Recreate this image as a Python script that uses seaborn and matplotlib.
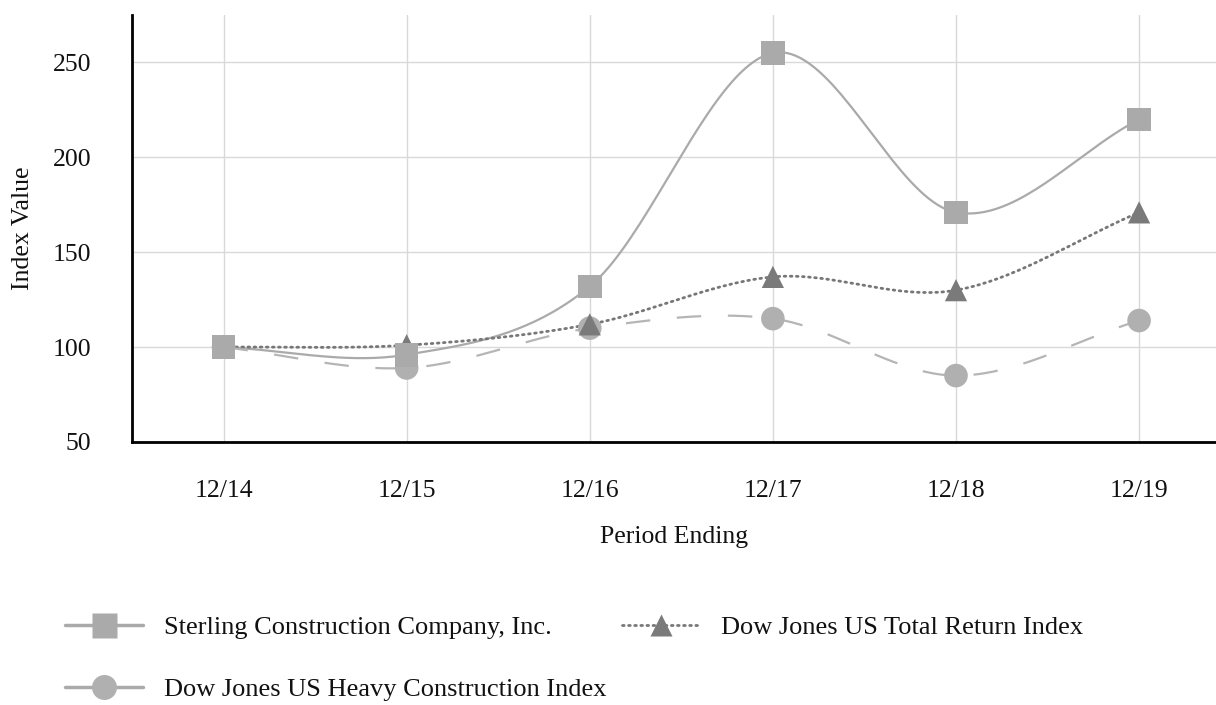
import numpy as np
import pandas as pd
import matplotlib
matplotlib.use('Agg')
import matplotlib.pyplot as plt
import seaborn as sns
from matplotlib.lines import Line2D

# data
periods = ['12/14', '12/15', '12/16', '12/17', '12/18', '12/19']
sterling = [100, 96, 132, 255, 171, 220]
dj_total = [100, 101, 112, 137, 130, 171]
dj_heavy = [100, 89, 110, 115, 85, 114]

names = ['Sterling Construction Company, Inc.',
         'Dow Jones US Total Return Index',
         'Dow Jones US Heavy Construction Index']


def smooth(y, n=40):
    # cardinal (catmull-rom) spline through the points
    y = np.asarray(y, dtype=float)
    x = np.arange(len(y), dtype=float)
    m = np.gradient(y, x)
    xs, ys = [], []
    for i in range(len(y) - 1):
        t = np.linspace(0, 1, n, endpoint=(i == len(y) - 2))
        h00 = 2 * t**3 - 3 * t**2 + 1
        h10 = t**3 - 2 * t**2 + t
        h01 = -2 * t**3 + 3 * t**2
        h11 = t**3 - t**2
        xs.append(x[i] + t)
        ys.append(h00 * y[i] + h10 * m[i] + h01 * y[i + 1] + h11 * m[i + 1])
    return np.concatenate(xs), np.concatenate(ys)


sns.set_style('white')
plt.rcParams['font.family'] = ['Liberation Serif', 'DejaVu Serif']
FS = 18.5

fig = plt.figure(figsize=(12.16, 7.05), dpi=100)
ax = fig.add_axes([132 / 1216, 263 / 705, 1 - 132 / 1216, (442 - 15) / 705])

# square on top, then triangle, circles lowest
styles = [
    dict(color='#aaaaaa', ls='-', marker='s', mc='#aaaaaa', ms=17, z=5),
    dict(color='#777777', ls=(0, (0.6, 1.6)), marker='^', mc='#7a7a7a', ms=16, z=4),
    dict(color='#b5b5b5', ls=(0, (11, 12)), marker='o', mc='#b0b0b0', ms=17, z=3),
]

xpos = np.arange(len(periods))
for vals, name, st in zip([sterling, dj_total, dj_heavy], names, styles):
    xs, ys = smooth(vals)
    curve = pd.DataFrame({'x': xs, 'y': ys})
    sns.lineplot(data=curve, x='x', y='y', ax=ax, color=st['color'],
                 linewidth=1.6 if st['marker'] != '^' else 2.0,
                 linestyle=st['ls'], solid_capstyle='round',
                 dash_capstyle='round' if st['marker'] == '^' else 'butt',
                 zorder=2)
    pts = pd.DataFrame({'x': xpos, 'y': vals})
    sns.scatterplot(data=pts, x='x', y='y', ax=ax, marker=st['marker'],
                    color=st['mc'], s=st['ms'] ** 2, edgecolor='none',
                    linewidth=0, zorder=st['z'])

ax.set_xlim(-0.5, 5.42)
ax.set_ylim(50, 275)
ax.set_xticks(xpos)
ax.set_xticklabels(periods)
ax.set_yticks([50, 100, 150, 200, 250])
ax.grid(True, color='#d9d9d9', linewidth=1)
ax.set_axisbelow(True)
for s in ['top', 'right']:
    ax.spines[s].set_visible(False)
for s in ['left', 'bottom']:
    ax.spines[s].set_color('black')
    ax.spines[s].set_linewidth(2)
ax.tick_params(axis='both', direction='out', length=10.5, width=1,
               color='#333333', labelsize=FS, labelcolor='#111111')
ax.tick_params(axis='y', pad=19)
ax.tick_params(axis='x', pad=17)
ax.set_xlabel('Period Ending', fontsize=FS, color='#111111', labelpad=17.5)
ax.set_ylabel('Index Value', fontsize=FS, color='#111111', labelpad=13)

handles = [
    Line2D([], [], color='#aaaaaa', lw=2.5, marker='s', ms=18,
           mfc='#aaaaaa', mec='none'),
    Line2D([], [], color='#aaaaaa', lw=2.5, marker='o', ms=18,
           mfc='#b0b0b0', mec='none'),
    Line2D([], [], color='#777777', lw=2, ls=(0, (0.6, 1.6)),
           dash_capstyle='round', marker='^', ms=16, mfc='#7a7a7a',
           mec='none'),
]
fig.legend(handles, [names[0], names[2], names[1]], ncol=2,
           loc='upper left', bbox_to_anchor=(65 / 1216, 1 - 616 / 705),
           frameon=False, fontsize=19, handlelength=2.95, handletextpad=0.8,
           columnspacing=0.6, labelspacing=1.45, borderpad=0,
           borderaxespad=0, labelcolor='#111111')

fig.savefig('out.png', dpi=100)
